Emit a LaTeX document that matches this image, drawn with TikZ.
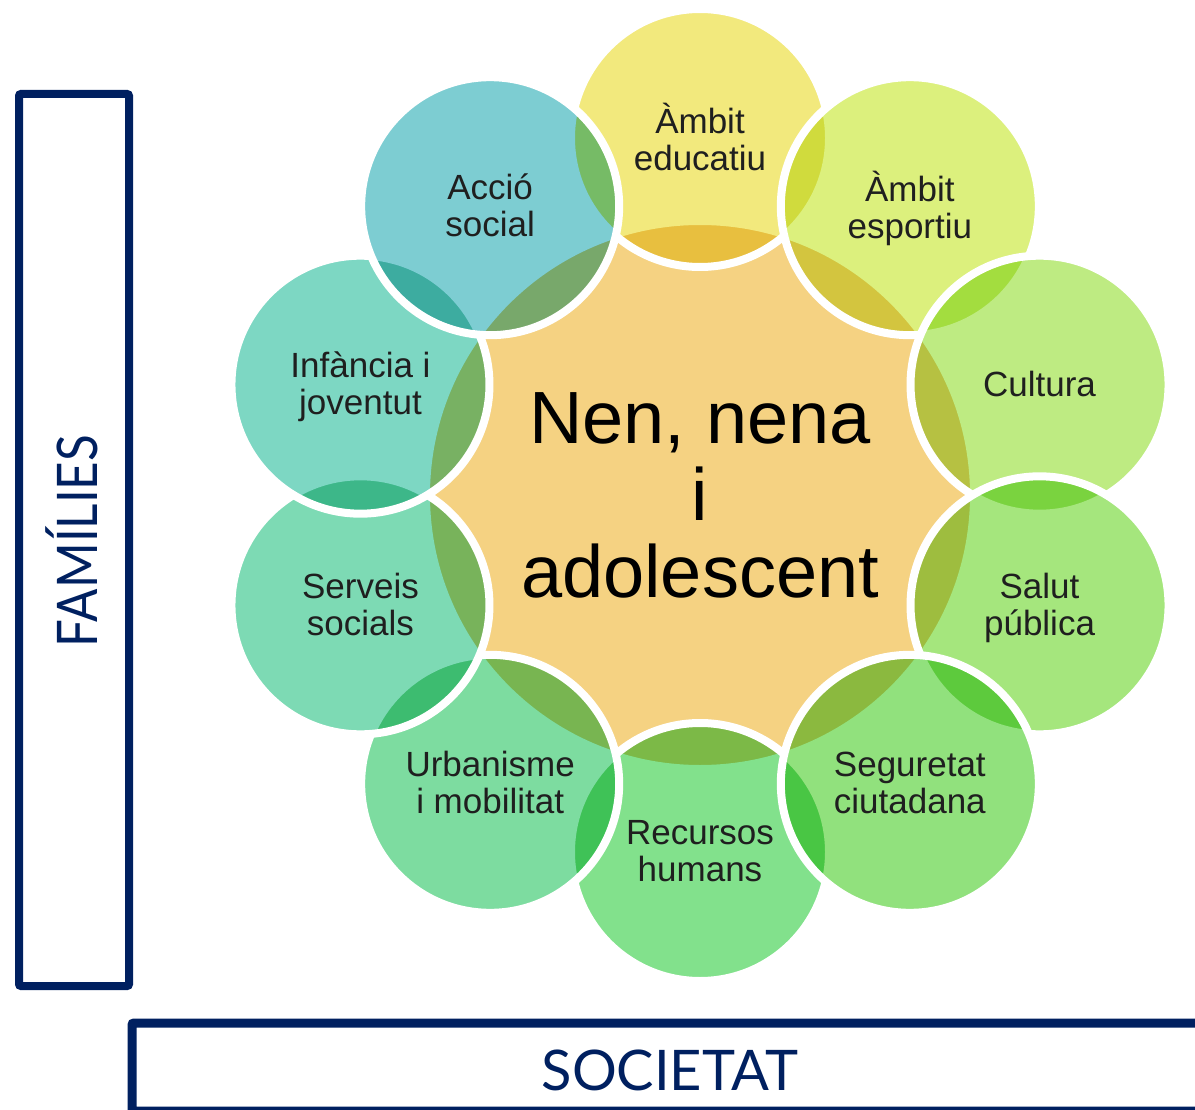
\documentclass[tikz,border=0pt]{standalone}
\usepackage{fontspec}
\setmainfont{Liberation Sans}
\newfontfamily\capfont{Lato}
\usetikzlibrary{calc}
\definecolor{navy}{RGB}{0,32,96}
\definecolor{orangeC}{RGB}{245,210,130}
\definecolor{cEdu}{RGB}{242,233,125}
\definecolor{cEsp}{RGB}{220,240,125}
\definecolor{cCul}{RGB}{190,235,130}
\definecolor{cSal}{RGB}{165,230,125}
\definecolor{cSeg}{RGB}{145,225,125}
\definecolor{cRec}{RGB}{130,225,140}
\definecolor{cUrb}{RGB}{125,220,160}
\definecolor{cSer}{RGB}{125,218,180}
\definecolor{cInf}{RGB}{125,215,195}
\definecolor{cAcc}{RGB}{125,205,210}
\begin{document}
\begin{tikzpicture}[x=1pt,y=-1pt,
  frame/.style={draw=navy,line width=8pt,rounded corners=2pt},
  captxt/.style={font=\capfont\fontsize{56}{60}\selectfont, text=navy, inner sep=0pt},
  ringedge/.style={draw=white, line width=8pt},
  lbl/.style={font=\fontsize{35}{37}\selectfont, text=black!88, align=center, inner sep=0pt},
  bigtxt/.style={font=\fontsize{74}{77}\selectfont, text=black, align=center, inner sep=0pt},
]
\useasboundingbox (0,0) rectangle (1195,1110);

% side frames
\draw[frame] (19,94) rectangle (129,986);
\node[captxt, anchor=base, rotate=90] (fam) at (97,541) {\scalebox{0.88}[1]{FAMÍLIES}};
\begin{scope}
  \clip (0,0) rectangle (1195,1110);
  \draw[frame, line width=9pt] (132,1023) rectangle (1240,1111);
\end{scope}
\node[captxt, anchor=base] (soc) at (670,1090) {SOCIETAT};

% central circle
\coordinate (c0) at (700,495);
\fill[orangeC] (c0) circle[radius=274pt];
\draw[ringedge] (c0) circle[radius=274pt];

% ring of circles (angles measured clockwise on the page)
\foreach \a/\col/\n in {-90/cEdu/edu, -54/cEsp/esp, -18/cCul/cul, 18/cSal/sal, 90/cRec/rec, 54/cSeg/seg, 126/cUrb/urb, 162/cSer/ser, -162/cInf/inf, -126/cAcc/acc}{
  \path (c0) ++(\a:357) coordinate (\n);
  \begin{scope}[blend mode=multiply]
    \fill[\col] (\n) circle[radius=129pt];
  \end{scope}
  \draw[ringedge] (\n) circle[radius=129pt];
}

% labels
\node[lbl] (tEdu) at ($(edu)+(0,4)$) {\strut Àmbit\\\strut educatiu};
\node[lbl] (tEsp) at ($(esp)+(0,4)$) {\strut Àmbit\\\strut esportiu};
\node[lbl] (tCul) at ($(cul)+(0,4)$) {\strut Cultura};
\node[lbl] (tSal) at ($(sal)+(0,4)$) {\strut Salut\\\strut pública};
\node[lbl] (tSeg) at ($(seg)+(0,4)$) {\strut Seguretat\\\strut ciutadana};
\node[lbl] (tRec) at ($(rec)+(0,4)$) {\strut Recursos\\\strut humans};
\node[lbl] (tUrb) at ($(urb)+(0,4)$) {\strut Urbanisme\\\strut i mobilitat};
\node[lbl] (tSer) at ($(ser)+(0,4)$) {\strut Serveis\\\strut socials};
\node[lbl] (tInf) at ($(inf)+(0,4)$) {\strut Infància i\\\strut joventut};
\node[lbl] (tAcc) at ($(acc)+(0,4)$) {\strut Acció\\\strut social};

\node[bigtxt] (kid) at (700,504.6) {\strut Nen, nena\\\strut i\\\strut adolescent};
\end{tikzpicture}
\end{document}
